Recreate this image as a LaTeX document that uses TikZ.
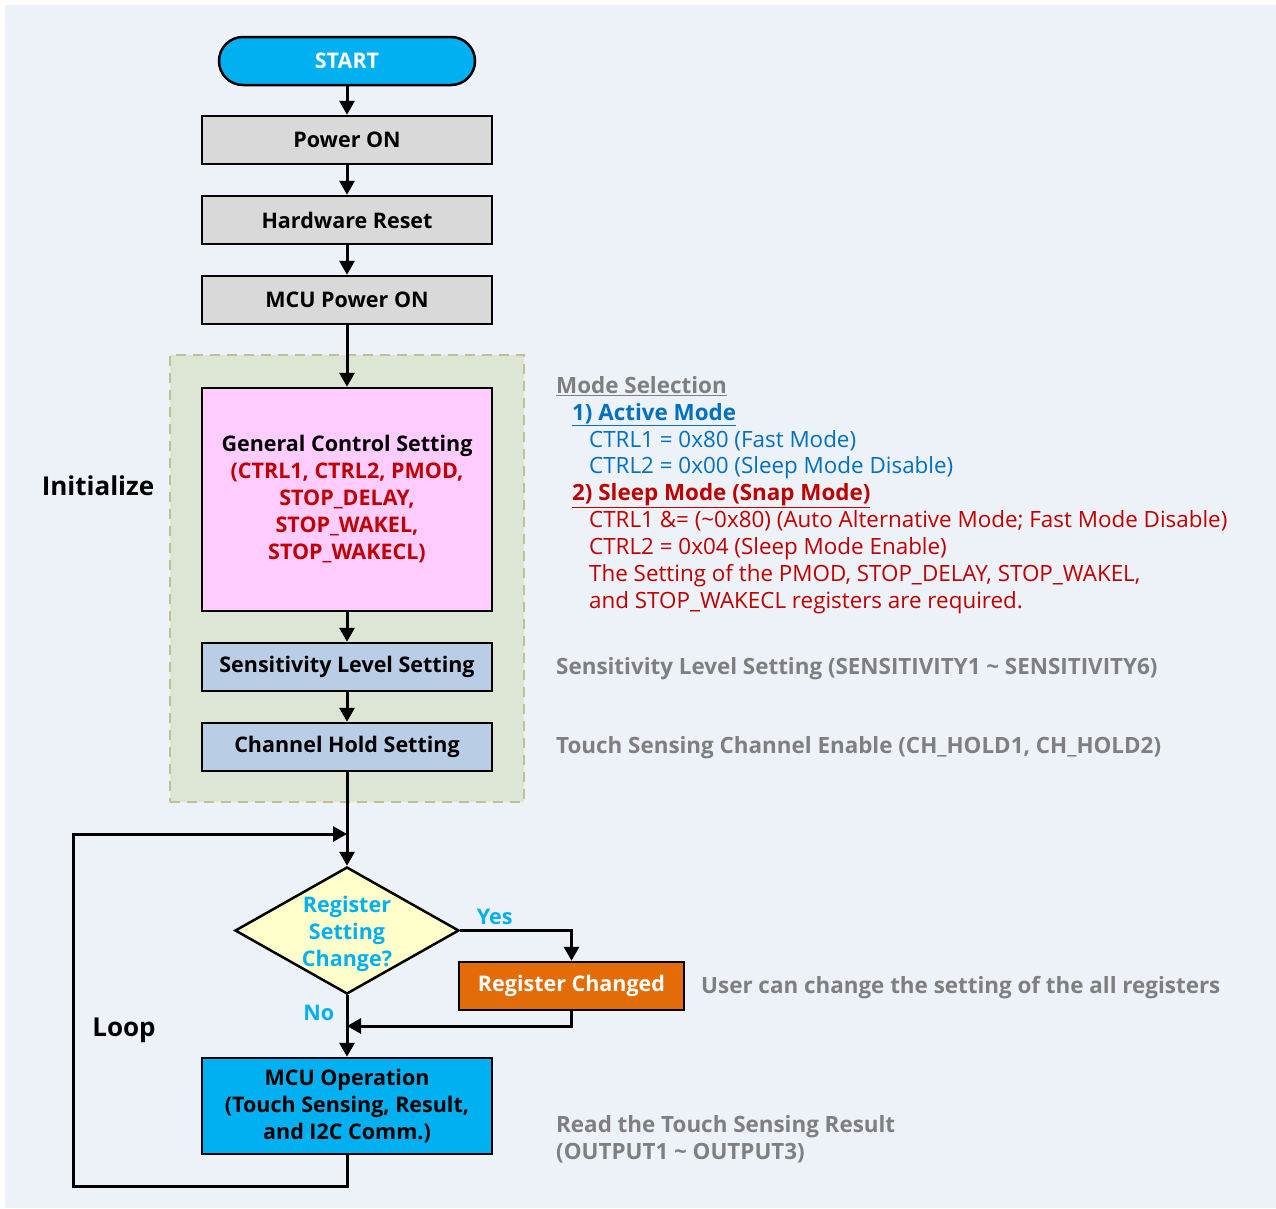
\documentclass[tikz,border=0pt]{standalone}
\usepackage{fontspec}
\setmainfont{Open Sans}
\usetikzlibrary{shapes.geometric,arrows.meta}
\definecolor{bgcol}{HTML}{EDF1F8}
\definecolor{skyblue}{HTML}{00B0F0}
\definecolor{boxgray}{HTML}{D9D9D9}
\definecolor{initfill}{HTML}{DDE5D5}
\definecolor{initline}{HTML}{C4BD97}
\definecolor{pinkfill}{HTML}{FFCCFF}
\definecolor{steelfill}{HTML}{B9CDE5}
\definecolor{decfill}{HTML}{FFFFCC}
\definecolor{orangefill}{HTML}{E36C09}
\definecolor{notegray}{HTML}{7F7F7F}
\definecolor{modeblue}{HTML}{0070C0}
\definecolor{modered}{HTML}{C00000}
\newcommand{\fs}        {\fontsize{21.5}{27}\selectfont}
\newcommand{\ns}        {\fontsize{22.4}{26.9}\selectfont}
\newcommand{\tld}       {\textasciitilde}

\begin{document}
\begin{tikzpicture}[x=1pt,y=-1pt,
    box/.style={draw=black,line width=2.5pt,minimum width=290pt,minimum height=48pt,
      inner sep=0pt,align=center,font=\fs\bfseries},
    graybox/.style={box,fill=boxgray},
    steelbox/.style={box,fill=steelfill},
    note/.style={anchor=west,inner sep=0pt,text=notegray,font=\ns\bfseries},
    arr/.style={line width=3pt,-{Triangle[length=14pt,width=15pt]}}]
     \useasboundingbox (0,0) rectangle (1276,1208);
     \fill[bgcol] (5,5) rectangle (1276,1208);
     \node[box,fill=skyblue,text=white,minimum width=256pt,rounded corners=24pt] (start) at (347,61) {START};
     \node[graybox] (pwr) at (347,140) {Power ON};
     \node[graybox] (hwreset) at (347,220) {Hardware Reset};
     \node[graybox] (mcupwr) at (347,300) {MCU Power ON};
     \node[draw=initline,fill=initfill,line width=2pt,dash pattern=on 10pt off 7pt,
       minimum width=354pt,minimum height=447pt] (init) at (347,578.5) {};
     \node[font=\fontsize{26}{30}\selectfont\bfseries] (initlbl) at (98,486) {Initialize};
     \node[box,fill=pinkfill,minimum height=223pt] (gcs) at (347,499.5)
       {General Control Setting\\ \color{modered}(CTRL1, CTRL2, PMOD,\\ \color{modered}STOP\_DELAY,\\
        \color{modered}STOP\_WAKEL,\\ \color{modered}STOP\_WAKECL)};
     \node[steelbox] (sens) at (347,667) {Sensitivity Level Setting};
     \node[steelbox] (chold) at (347,747) {Channel Hold Setting};
     \node[diamond,draw=black,line width=2.5pt,fill=decfill,inner sep=0pt,
       minimum width=224pt,minimum height=127pt,
       label={[align=center,text=skyblue,font=\fs\bfseries,yshift=-3pt]center:Register\\Setting\\Change?}]
       (chg) at (347,930.5) {};
     \node[box,fill=orangefill,text=white,minimum width=225pt] (regchg) at (571.5,986) {Register Changed};
     \node[box,fill=skyblue,minimum height=96pt] (mcuop) at (347,1106)
       {MCU Operation\\(Touch Sensing, Result,\\and I2C Comm.)};
     \node[font=\fontsize{26}{30}\selectfont\bfseries] (looplbl) at (124,1030) {Loop};
     \coordinate (merge) at (347,1026);
     \coordinate (back) at (347,834);

     \draw[arr] (start) -- (pwr);
     \draw[arr] (pwr) -- (hwreset);
     \draw[arr] (hwreset) -- (mcupwr);
     \draw[arr] (mcupwr) -- (gcs);
     \draw[arr] (gcs) -- (sens);
     \draw[arr] (sens) -- (chold);
     \draw[arr] (chold) -- (chg);
     \draw[arr] (chg.east) -| (regchg.north)
       node[pos=0.155,above=1pt,text=skyblue,font=\fs\bfseries] (yes) {Yes};
     \draw[arr] (regchg.south) |- (merge);
     \draw[arr] (chg.south) -- (mcuop.north)
       node[pos=0.28,left=8pt,text=skyblue,font=\fs\bfseries] (no) {No};
     \draw[arr] (mcuop.south) |- (73,1186) |- (back);

     \node[anchor=north west,inner sep=0pt,align=left,font=\ns] (modes) at (556,376)
       {\textcolor{notegray}{\bfseries\underline{Mode Selection}}\\
        \hspace*{16pt}\textcolor{modeblue}{\bfseries\underline{1) Active Mode}}\\
        \hspace*{33pt}\textcolor{modeblue}{CTRL1 = 0x80 (Fast Mode)}\\
        \hspace*{33pt}\textcolor{modeblue}{CTRL2 = 0x00 (Sleep Mode Disable)}\\
        \hspace*{16pt}\textcolor{modered}{\bfseries\underline{2) Sleep Mode (Snap Mode)}}\\
        \hspace*{33pt}\textcolor{modered}{CTRL1 \&= (\tld 0x80) (Auto Alternative Mode; Fast Mode Disable)}\\
        \hspace*{33pt}\textcolor{modered}{CTRL2 = 0x04 (Sleep Mode Enable)}\\
        \hspace*{33pt}\textcolor{modered}{The Setting of the PMOD, STOP\_DELAY, STOP\_WAKEL,}\\
        \hspace*{33pt}\textcolor{modered}{and STOP\_WAKECL registers are required.}};
     \node[note] (sensnote) at (556,669) {Sensitivity Level Setting (SENSITIVITY1 \tld\ SENSITIVITY6)};
     \node[note] (holdnote) at (556,748) {Touch Sensing Channel Enable (CH\_HOLD1, CH\_HOLD2)};
     \node[note] (regnote) at (701,988) {User can change the setting of the all registers};
     \node[note,align=left] (opnote) at (556,1139) {Read the Touch Sensing Result\\(OUTPUT1 \tld\ OUTPUT3)};
    \end{tikzpicture}
\end{document}
